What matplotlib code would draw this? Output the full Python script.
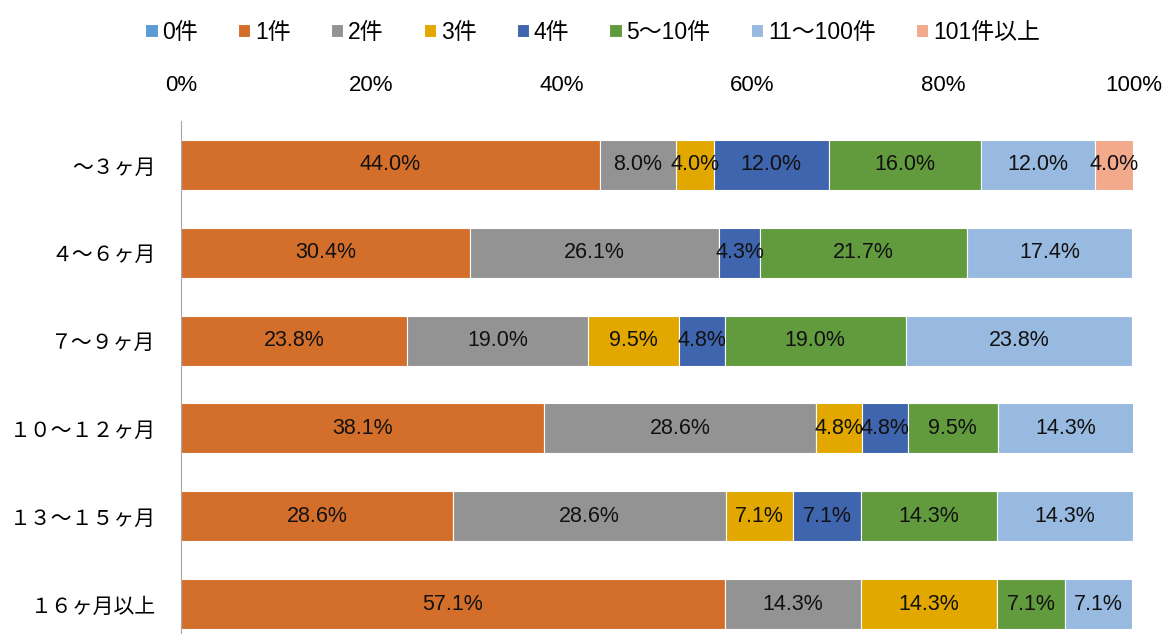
import matplotlib
matplotlib.use("Agg")
import matplotlib.pyplot as plt
import numpy as np

plt.rcParams['font.family'] = ['Liberation Sans', 'Noto Sans CJK JP', 'DejaVu Sans']

periods = ['～３ヶ月', '４～６ヶ月', '７～９ヶ月', '１０～１２ヶ月', '１３～１５ヶ月', '１６ヶ月以上']
series = ['0件', '1件', '2件', '3件', '4件', '5～10件', '11～100件', '101件以上']
colors = ['#5B9BD5', '#D46F2B', '#939393', '#E2A800', '#3E65AD', '#629A3E', '#98B9E0', '#F2A98C']

# percent per period, one list per series
s0 = [0, 0, 0, 0, 0, 0]
s1 = [44.0, 30.4, 23.8, 38.1, 28.6, 57.1]
s2 = [8.0, 26.1, 19.0, 28.6, 28.6, 14.3]
s3 = [4.0, 0, 9.5, 4.8, 7.1, 14.3]
s4 = [12.0, 4.3, 4.8, 4.8, 7.1, 0]
s5 = [16.0, 21.7, 19.0, 9.5, 14.3, 7.1]
s6 = [12.0, 17.4, 23.8, 14.3, 14.3, 7.1]
s7 = [4.0, 0, 0, 0, 0, 0]
values = [s0, s1, s2, s3, s4, s5, s6, s7]

fig = plt.figure(figsize=(11.66, 6.34), dpi=100)
ax = fig.add_axes([0.155, -0.022, 0.817, 0.831])

y = np.arange(len(periods))
left = np.zeros(len(periods))
for name, vals, c in zip(series, values, colors):
    vals = np.array(vals, dtype=float)
    bars = ax.barh(y, vals, left=left, height=0.57, color=c, label=name,
                   edgecolor='white', linewidth=0.8)
    for b, v in zip(bars, vals):
        if v > 0:
            ax.text(b.get_x() + b.get_width() / 2, b.get_y() + b.get_height() / 2,
                    f'{v:.1f}%', ha='center', va='center', fontsize=15.5,
                    color='#111111')
    left += vals

ax.set_xlim(0, 100)
ax.set_ylim(len(periods) - 0.5, -0.5)
ax.set_yticks(y)
ax.set_yticklabels(periods, fontsize=15, family=['Noto Sans CJK JP'])
ax.set_xticks(np.arange(0, 101, 20))
ax.set_xticklabels([f'{t}%' for t in range(0, 101, 20)], fontsize=16)
ax.xaxis.tick_top()
ax.tick_params(axis='x', length=0, pad=18)
ax.tick_params(axis='y', length=0, pad=18)
for side in ['top', 'right', 'bottom']:
    ax.spines[side].set_visible(False)
ax.spines['left'].set_color('#A6A6A6')

fig.legend(loc='upper center', bbox_to_anchor=(0.508, 1.0), ncol=8, frameon=False,
           fontsize=16.5, handlelength=0.55, handleheight=0.55, handletextpad=0.2,
           columnspacing=1.75)

fig.savefig('out.png', dpi=100)
